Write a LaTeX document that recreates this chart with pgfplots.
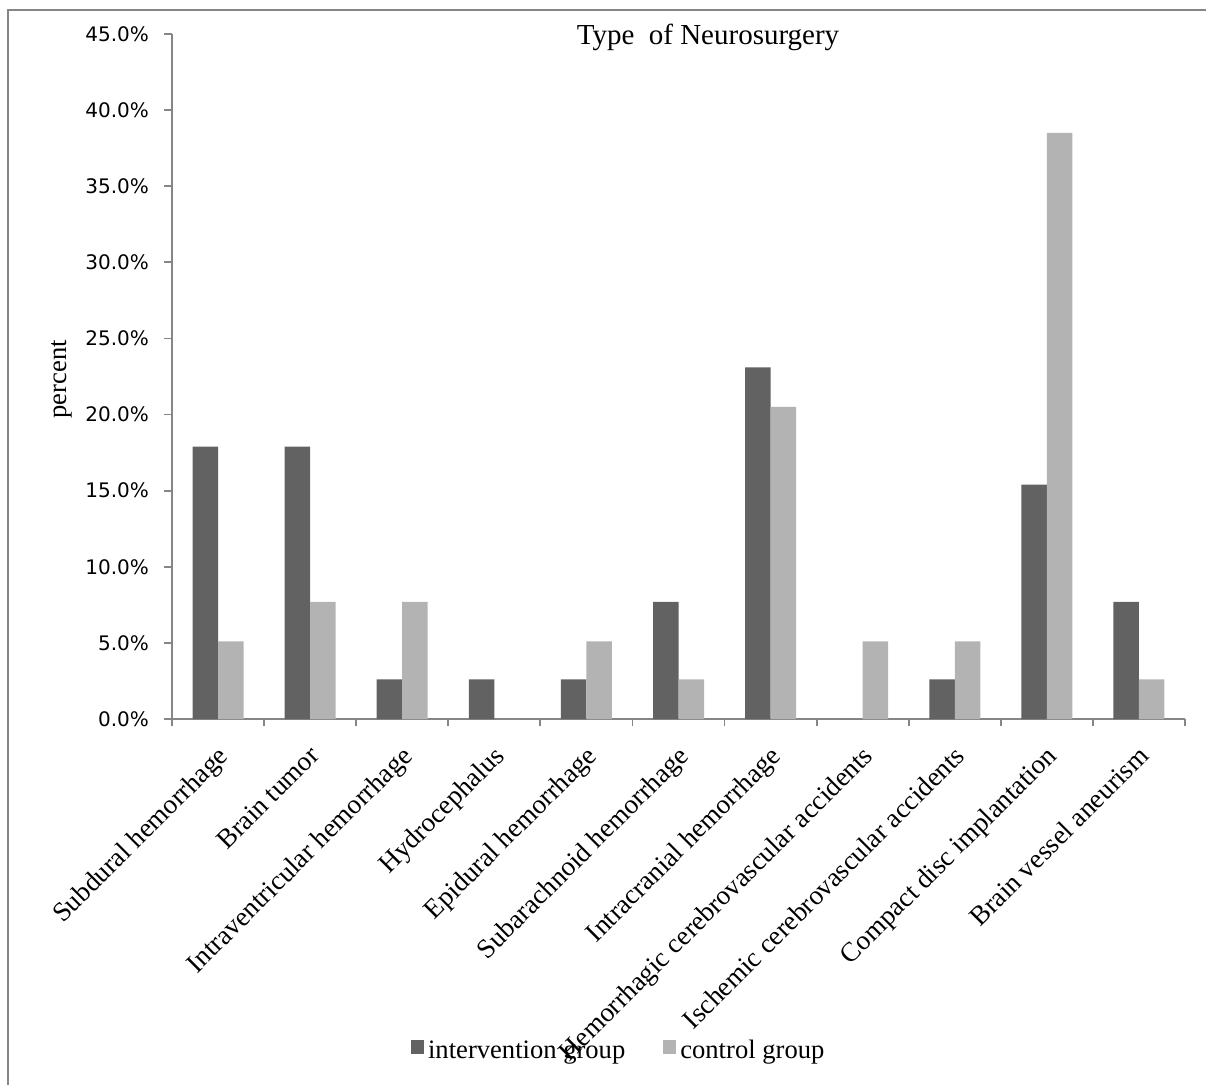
\documentclass[border=0pt]{standalone}
\usepackage{fontspec}
\setmainfont{Liberation Serif}
\newfontfamily\tickfont{DejaVu Sans}
\usepackage{pgfplots}
\pgfplotsset{compat=1.18}

\definecolor{interv}{RGB}{98,98,98}
\definecolor{contr}{RGB}{179,179,179}
\definecolor{axisgray}{RGB}{134,134,134}

\begin{document}
\begin{tikzpicture}
% 1 px of the reference = 0.5pt
\path[use as bounding box] (0,0) rectangle (603pt,542pt);
\draw[axisgray, line width=1pt] (4pt,-5pt) -- (4pt,537pt) -- (610pt,537pt);

\begin{axis}[
    at={(86pt,182.5pt)}, anchor=south west,
    width=506.5pt, height=342.5pt, scale only axis,
    ybar=0pt, bar width=12.75pt,
    xmin=-0.5, xmax=10.5, ymin=0, ymax=45,
    axis lines=left,
    axis line style={-, draw=axisgray, line width=0.9pt},
    tick align=outside,
    tick style={draw=axisgray, line width=0.9pt},
    major tick length=4pt, minor tick length=3.5pt,
    xtick={0,...,10},
    major x tick style={draw=none},
    minor xtick={-0.5,0.5,...,10.5},
    xticklabels={Subdural hemorrhage, Brain tumor, Intraventricular hemorrhage,
        Hydrocephalus, Epidural hemorrhage, Subarachnoid hemorrhage,
        Intracranial hemorrhage, Hemorrhagic cerebrovascular accidents,
        Ischemic cerebrovascular accidents, Compact disc implantation,
        Brain vessel aneurism},
    x tick label style={xshift=-1pt, yshift=-7pt, rotate=45,
        anchor=north east, inner sep=1pt,
        font=\fontsize{13.6}{15}\selectfont},
    ytick={0,5,...,45},
    /pgf/number format/assume math mode=true,
    yticklabel={\pgfmathprintnumber[fixed,fixed zerofill,precision=1]{\tick}\%},
    y tick label style={font=\tickfont\fontsize{10}{12}\selectfont, xshift=-4pt},
    ylabel={percent},
    ylabel style={at={(axis description cs:-0.1086,0.496)}, anchor=center,
        font=\fontsize{13.3}{15}\selectfont},
    legend columns=2,
    legend style={at={(axis description cs:0.442,-0.485)}, anchor=center,
        draw=none, fill=none, font=\fontsize{13.3}{15}\selectfont,
        /tikz/every even column/.append style={column sep=17pt}},
    legend image code/.code={\fill[#1] (0pt,-1.5pt) rectangle (6.5pt,5.5pt);},
]
\addplot[fill=interv, draw=none] coordinates {
    (0,17.9) (1,17.9) (2,2.6) (3,2.6) (4,2.6) (5,7.7)
    (6,23.1) (7,0) (8,2.6) (9,15.4) (10,7.7)
};
\addplot[fill=contr, draw=none] coordinates {
    (0,5.1) (1,7.7) (2,7.7) (3,0) (4,5.1) (5,2.6)
    (6,20.5) (7,5.1) (8,5.1) (9,38.5) (10,2.6)
};
\legend{intervention group, control group}
\end{axis}
\node[anchor=base, font=\fontsize{14.5}{17}\selectfont] at (354pt,519.5pt)
    {Type~ of Neurosurgery};
\end{tikzpicture}
\end{document}
